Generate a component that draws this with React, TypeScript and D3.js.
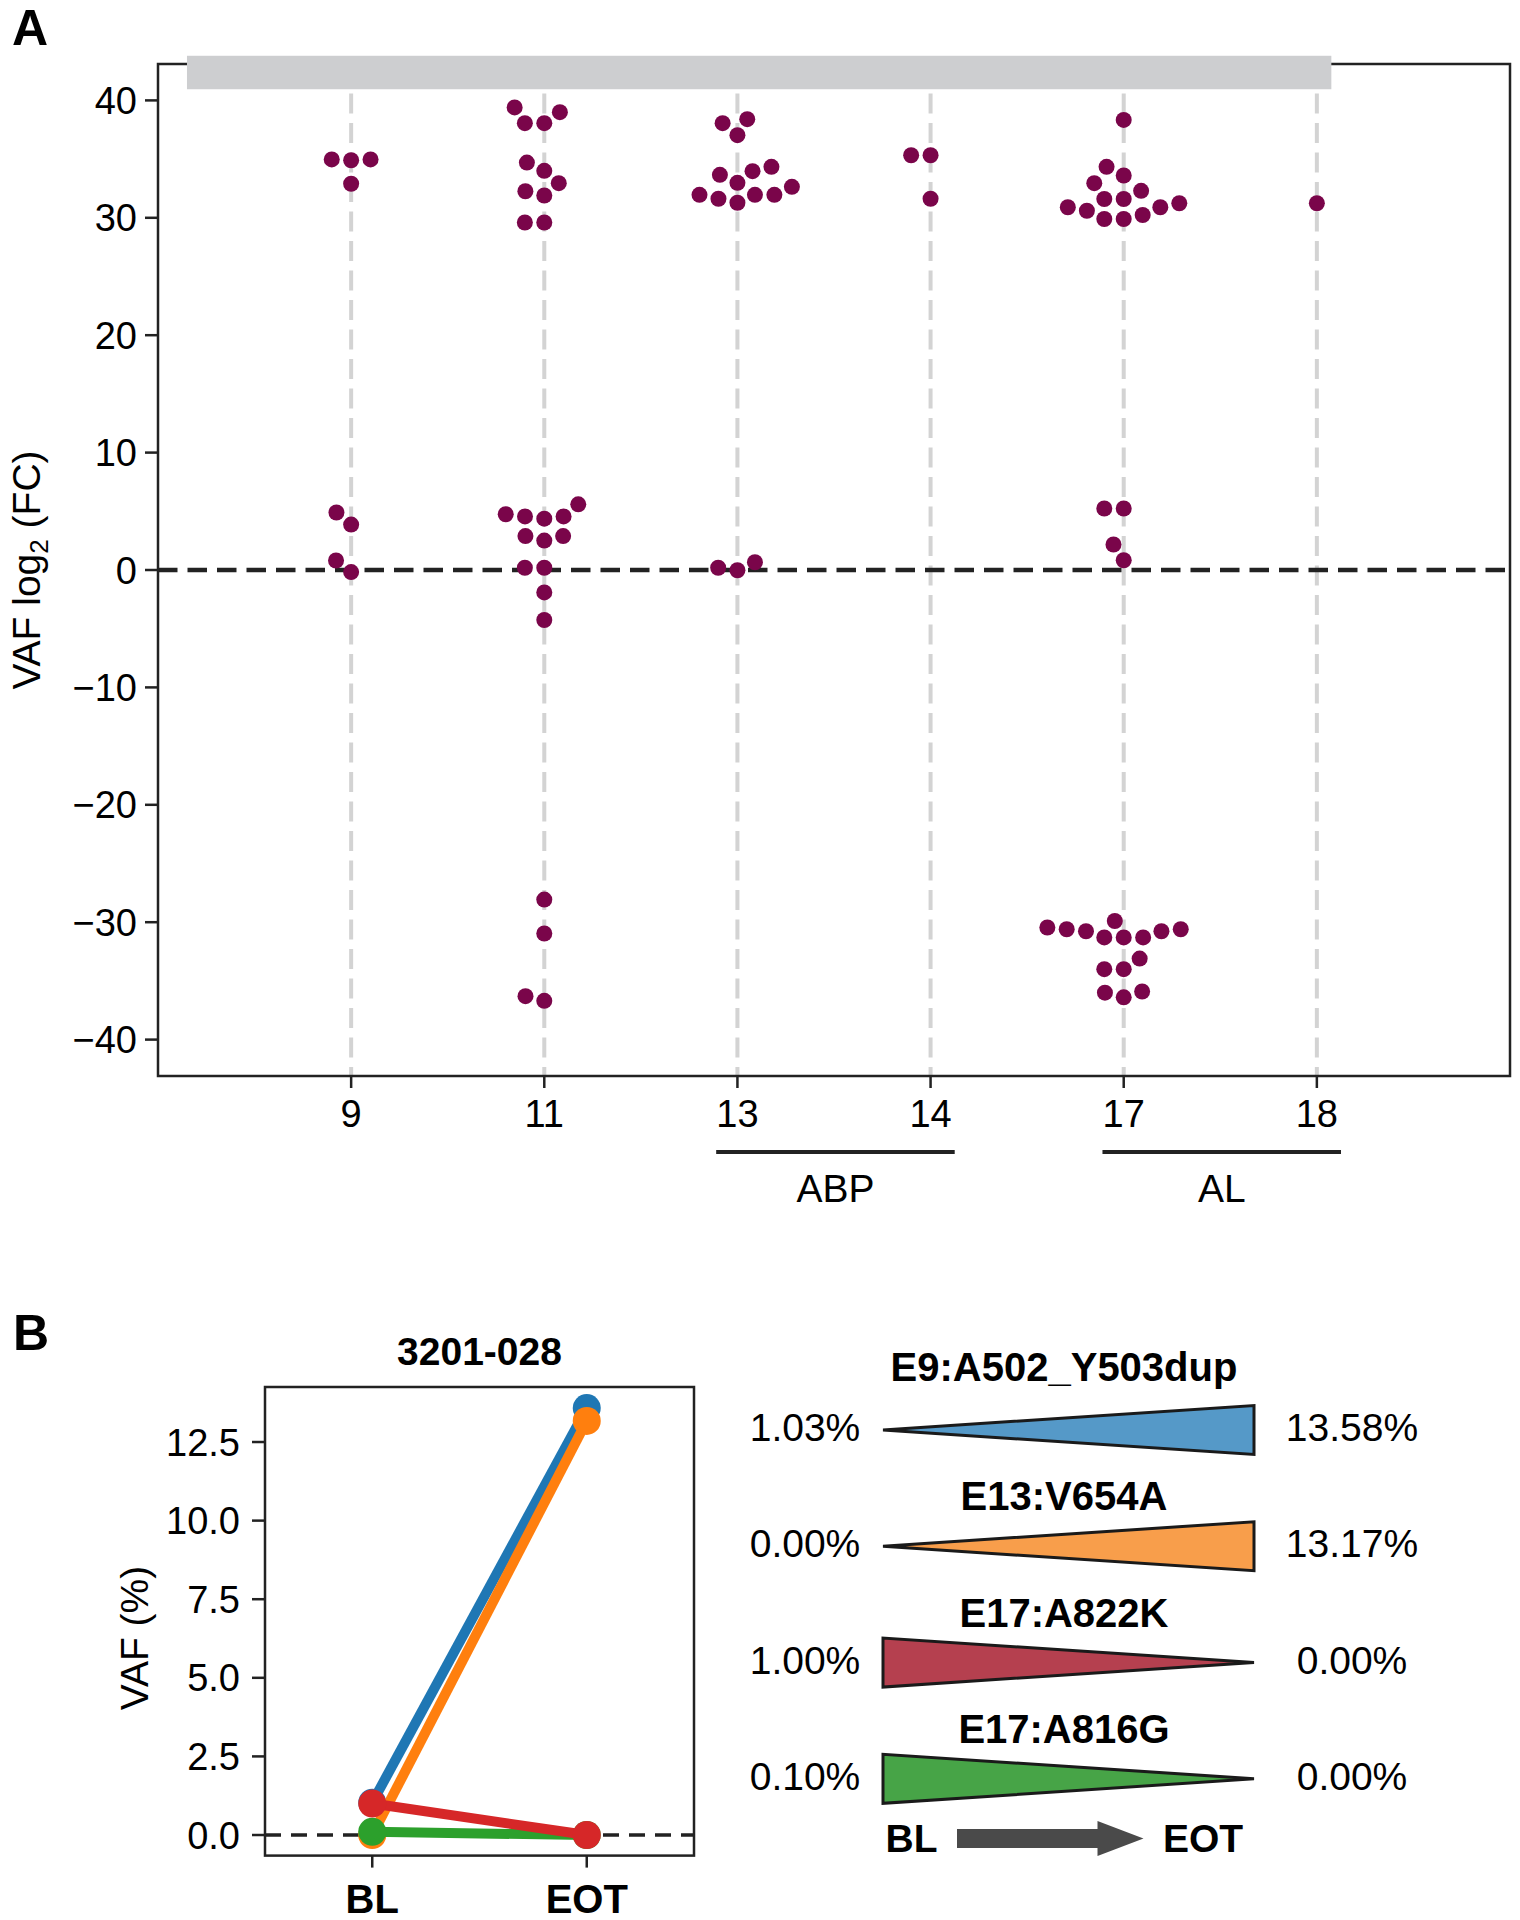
import React from "react";
import * as d3 from "d3";

// ---- panel A data: VAF log2 fold change per exon ----
const exons = ["9", "11", "13", "14", "17", "18"];
const exon9 = [-0.18, 0.81, 3.87, 4.9, 32.9, 34.9, 34.97, 34.97];
const exon11 = [
  29.6, 29.6, 31.9, 32.26, 32.95, 34.0, 34.7, 38.06, 38.06, 39.0, 39.4,
  5.59, 4.56, 4.37, 4.56, 4.75, 2.89, 2.51, 2.89, 0.19, 0.19, -1.91, -4.26,
  -28.07, -30.96, -36.3, -36.7,
];
const exon13 = [
  31.28, 31.62, 31.96, 31.96, 31.96, 32.64, 32.98, 33.66, 33.97, 34.34, 37.04,
  38.06, 38.4, -0.02, 0.19, 0.66,
];
const exon14 = [31.62, 35.33, 35.33];
const exon17 = [
  29.9, 29.9, 30.24, 30.6, 30.9, 30.9, 31.24, 31.6, 31.6, 32.3, 32.95, 33.6,
  34.34, 38.34, 0.83, 2.17, 5.24, 5.24, -36.4, -36.0, -35.9, -34.0, -34.0,
  -33.1, -31.3, -31.3, -31.3, -30.77, -30.77, -30.6, -30.6, -30.45, -29.9,
];
const exon18 = [31.24];
const exonValues = [exon9, exon11, exon13, exon14, exon17, exon18];
const yTicksA = [-40, -30, -20, -10, 0, 10, 20, 30, 40];
const exonGroups = [
  { label: "ABP", from: "13", to: "14" },
  { label: "AL", from: "17", to: "18" },
];

// ---- panel B data: patient 3201-028 ----
const patient = "3201-028";
const timepoints = ["BL", "EOT"];
const mutations = ["E9:A502_Y503dup", "E13:V654A", "E17:A822K", "E17:A816G"];
const vafBL = [1.03, 0.0, 1.0, 0.1];
const vafEOT = [13.58, 13.17, 0.0, 0.0];
const yTicksB = [0, 2.5, 5, 7.5, 10, 12.5];
const lineColors = ["#1f77b4", "#ff7f0e", "#d62728", "#2ca02c"];
const wedgeColors = ["#5599c8", "#f89e4b", "#b5404f", "#47a447"];
const drawOrder = [0, 1, 3, 2];

const FONT = "'Liberation Sans', Arial, Helvetica, sans-serif";
const DOT = "#7a054a";

// seaborn-like beeswarm, done in pixel space (ties go to the left)
function swarm(values: number[], cx: number, y: (v: number) => number, r: number) {
  const pts = values
    .map((v) => ({ v, x: cx, y: -y(v) }))
    .sort((a, b) => a.y - b.y);
  const placed: { v: number; x: number; y: number }[] = [];
  pts.forEach((p, k) => {
    if (k === 0) {
      placed.push({ ...p });
      return;
    }
    const neighbors: typeof placed = [];
    for (let j = placed.length - 1; j >= 0; j--) {
      if (p.y - placed[j].y < 2 * r) neighbors.push(placed[j]);
      else break;
    }
    neighbors.reverse();
    const cands = [p.x];
    let leftFirst = true;
    neighbors.forEach((n) => {
      const dy = p.y - n.y;
      const dx = Math.sqrt(Math.max(4 * r * r - dy * dy, 0)) * 1.05;
      if (leftFirst) cands.push(n.x - dx, n.x + dx);
      else cands.push(n.x + dx, n.x - dx);
      leftFirst = !leftFirst;
    });
    const order = cands
      .map((c) => ({ c, off: Math.round(Math.abs(c - cx) * 1e4) }))
      .sort((a, b) => a.off - b.off || a.c - b.c);
    let chosen = order[order.length - 1].c;
    for (const o of order) {
      const ok = neighbors.every(
        (n) => (n.x - o.c) ** 2 + (n.y - p.y) ** 2 >= 4 * r * r - 1e-6
      );
      if (ok) {
        chosen = o.c;
        break;
      }
    }
    placed.push({ v: p.v, x: chosen, y: p.y });
  });
  return placed.map((p) => ({ v: p.v, x: p.x, y: -p.y }));
}

export default function App() {
  // panel A frame
  const a = { left: 158, right: 1510, top: 64, bottom: 1076 };
  const xA = d3.scalePoint<string>().domain(exons).range([a.left, a.right]).padding(1);
  const yA = d3.scaleLinear().domain([-43.1, 43.1]).range([a.bottom, a.top]);
  const step = xA.step();
  const dots = exons.flatMap((e, i) =>
    swarm(exonValues[i], xA(e) as number, yA, 9.25)
  );
  const bandX0 = (xA(exons[0]) as number) - 0.85 * step;
  const bandX1 = (xA(exons[exons.length - 1]) as number) + 0.075 * step;

  // panel B frame
  const b = { left: 265, right: 694, top: 1387, bottom: 1855.6 };
  const xB = d3.scalePoint<string>().domain(timepoints).range([b.left, b.right]).padding(0.5);
  const yB = d3.scaleLinear().domain([-0.655, 14.25]).range([b.bottom, b.top]);
  const lineGen = d3
    .line<number>()
    .x((_, i) => xB(timepoints[i]) as number)
    .y((d) => yB(d));

  // wedge schematic
  const rowY = d3.scalePoint<string>().domain(mutations).range([1430, 1778.8]);
  const narrowX = 883;
  const wideX = 1254;
  const half = 24.5;
  const pct = (v: number) => d3.format(".2f")(v) + "%";

  return (
    <svg
      width={1520}
      height={1920}
      style={{ position: "absolute", left: 0, top: 0, display: "block", background: "#fff" }}
      fontFamily={FONT}
    >
      {/* ---------------- Panel A ---------------- */}
      <text x={12} y={45} fontSize={50} fontWeight="bold">A</text>

      {exons.map((e) => (
        <line
          key={"g" + e}
          x1={xA(e)}
          x2={xA(e)}
          y1={a.top}
          y2={a.bottom}
          stroke="#d3d3d3"
          strokeWidth={4}
          strokeDasharray="20 9.5"
        />
      ))}
      <line
        x1={a.left}
        x2={a.right}
        y1={yA(0)}
        y2={yA(0)}
        stroke="#222"
        strokeWidth={4.5}
        strokeDasharray="19.5 10"
      />
      {dots.map((d, i) => (
        <circle key={i} cx={d.x} cy={d.y} r={8} fill={DOT} />
      ))}
      <rect
        x={a.left}
        y={a.top}
        width={a.right - a.left}
        height={a.bottom - a.top}
        fill="none"
        stroke="#222"
        strokeWidth={2.5}
      />
      <rect x={bandX0} y={yA(43.8)} width={bandX1 - bandX0} height={yA(40.95) - yA(43.8)} fill="#cdced0" />

      {yTicksA.map((t) => (
        <g key={"ya" + t}>
          <line x1={a.left - 13} x2={a.left} y1={yA(t)} y2={yA(t)} stroke="#222" strokeWidth={2.5} />
          <text x={a.left - 21} y={yA(t)} dy="0.36em" textAnchor="end" fontSize={38}>
            {d3.format("d")(t)}
          </text>
        </g>
      ))}
      {exons.map((e) => (
        <g key={"xa" + e}>
          <line x1={xA(e)} x2={xA(e)} y1={a.bottom} y2={a.bottom + 12} stroke="#222" strokeWidth={2.5} />
          <text x={xA(e)} y={1127} textAnchor="middle" fontSize={38}>{e}</text>
        </g>
      ))}
      {exonGroups.map((g) => {
        const x1 = (xA(g.from) as number) - 0.11 * step;
        const x2 = (xA(g.to) as number) + 0.125 * step;
        return (
          <g key={g.label}>
            <line x1={x1} x2={x2} y1={1152} y2={1152} stroke="#222" strokeWidth={4} />
            <text x={(x1 + x2) / 2} y={1201.5} textAnchor="middle" fontSize={39}>{g.label}</text>
          </g>
        );
      })}
      <text transform={`translate(40,${(a.top + a.bottom) / 2}) rotate(-90)`} textAnchor="middle" fontSize={39}>
        VAF log
        <tspan fontSize={26} dy={8}>2</tspan>
        <tspan dy={-8}> (FC)</tspan>
      </text>

      {/* ---------------- Panel B ---------------- */}
      <text x={13} y={1350} fontSize={50} fontWeight="bold">B</text>
      <text x={(b.left + b.right) / 2} y={1364.5} textAnchor="middle" fontSize={39} fontWeight="bold">
        {patient}
      </text>
      <line
        x1={b.left}
        x2={b.right}
        y1={yB(0)}
        y2={yB(0)}
        stroke="#222"
        strokeWidth={3.5}
        strokeDasharray="16 10"
      />
      {drawOrder.map((k) => (
        <g key={"s" + k}>
          <path d={lineGen([vafBL[k], vafEOT[k]]) as string} fill="none" stroke={lineColors[k]} strokeWidth={10} />
          {[vafBL[k], vafEOT[k]].map((v, i) => (
            <circle key={i} cx={xB(timepoints[i])} cy={yB(v)} r={14} fill={lineColors[k]} />
          ))}
        </g>
      ))}
      <rect
        x={b.left}
        y={b.top}
        width={b.right - b.left}
        height={b.bottom - b.top}
        fill="none"
        stroke="#222"
        strokeWidth={2.5}
      />
      {yTicksB.map((t) => (
        <g key={"yb" + t}>
          <line x1={b.left - 13} x2={b.left} y1={yB(t)} y2={yB(t)} stroke="#222" strokeWidth={2.5} />
          <text x={b.left - 25} y={yB(t)} dy="0.36em" textAnchor="end" fontSize={38}>
            {d3.format(".1f")(t)}
          </text>
        </g>
      ))}
      {timepoints.map((t) => (
        <g key={"xb" + t}>
          <line x1={xB(t)} x2={xB(t)} y1={b.bottom} y2={b.bottom + 12} stroke="#222" strokeWidth={2.5} />
          <text x={xB(t)} y={1913} textAnchor="middle" fontSize={40} fontWeight="bold">{t}</text>
        </g>
      ))}
      <text transform={`translate(148,1638) rotate(-90)`} textAnchor="middle" fontSize={39}>
        VAF (%)
      </text>

      {/* wedge schematic */}
      {mutations.map((m, i) => {
        const cy = rowY(m) as number;
        const up = vafEOT[i] > vafBL[i];
        const d = up
          ? `M${narrowX},${cy}L${wideX},${cy - half}L${wideX},${cy + half}Z`
          : `M${narrowX},${cy - half}L${narrowX},${cy + half}L${wideX},${cy}Z`;
        const drop = /[gjpqy_]/.test(m) ? 13 : 0;
        return (
          <g key={m}>
            <text x={1064} y={cy - 36 - drop} textAnchor="middle" fontSize={40} fontWeight="bold">{m}</text>
            <path d={d} fill={wedgeColors[i]} stroke="#1a1a1a" strokeWidth={3} strokeLinejoin="miter" />
            <text x={805} y={cy + 11} textAnchor="middle" fontSize={39}>{pct(vafBL[i])}</text>
            <text x={1352} y={cy + 11} textAnchor="middle" fontSize={39}>{pct(vafEOT[i])}</text>
          </g>
        );
      })}
      <text x={911.5} y={1852} textAnchor="middle" fontSize={39} fontWeight="bold">{timepoints[0]}</text>
      <path d="M957,1829H1097.5V1821L1143.5,1838.5L1097.5,1856V1848H957Z" fill="#4a4a4a" />
      <text x={1203} y={1852} textAnchor="middle" fontSize={39} fontWeight="bold">{timepoints[1]}</text>
    </svg>
  );
}
